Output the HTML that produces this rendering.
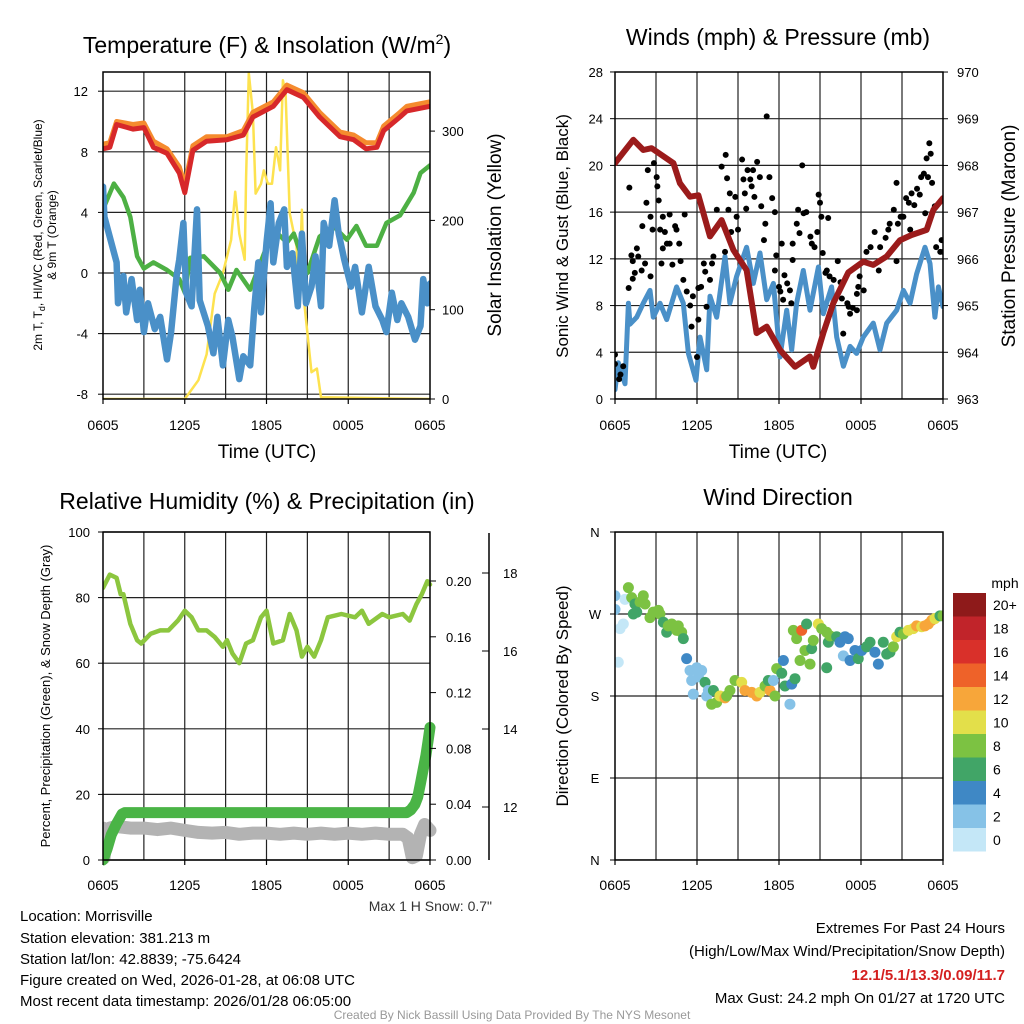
<!DOCTYPE html>
<html><head><meta charset="utf-8"><style>
html,body{margin:0;padding:0;background:#fff;}
svg{display:block;font-family:"Liberation Sans",Arial,sans-serif;}
</style></head><body>
<svg id="c" width="1024" height="1024" viewBox="0 0 1024 1024" xmlns="http://www.w3.org/2000/svg">
<g id="static">
<text x="267" y="53" font-size="23" text-anchor="middle">Temperature (F) &amp; Insolation (W/m<tspan dy="-9" font-size="14">2</tspan><tspan dy="9">)</tspan></text>
<text x="778" y="45" font-size="23" text-anchor="middle">Winds (mph) &amp; Pressure (mb)</text>
<text x="267" y="509" font-size="23" text-anchor="middle">Relative Humidity (%) &amp; Precipitation (in)</text>
<text x="778" y="505" font-size="23" text-anchor="middle">Wind Direction</text>
<text transform="translate(42,235) rotate(-90)" font-size="12" text-anchor="middle">2m T, T<tspan dy="3" font-size="9">d</tspan><tspan dy="-3">, HI/WC (Red, Green, Scarlet/Blue)</tspan></text>
<text transform="translate(56,235) rotate(-90)" font-size="12" text-anchor="middle">&amp; 9m T (Orange)</text>
<text transform="translate(501,235) rotate(-90)" font-size="19" text-anchor="middle">Solar Insolation (Yellow)</text>
<text x="267" y="458" font-size="19" text-anchor="middle">Time (UTC)</text>
<text x="778" y="458" font-size="19" text-anchor="middle">Time (UTC)</text>
<text transform="translate(568,236) rotate(-90)" font-size="17" text-anchor="middle">Sonic Wind &amp; Gust (Blue, Black)</text>
<text transform="translate(1015,236) rotate(-90)" font-size="19" text-anchor="middle">Station Pressure (Maroon)</text>
<text transform="translate(50,696) rotate(-90)" font-size="13" text-anchor="middle">Percent, Precipitation (Green), &amp; Snow Depth (Gray)</text>
<text transform="translate(568,696) rotate(-90)" font-size="17" text-anchor="middle">Direction (Colored By Speed)</text>
<text x="492" y="911" font-size="14" text-anchor="end" fill="#333">Max 1 H Snow: 0.7"</text>
<g font-size="15">
<text x="20" y="921">Location: Morrisville</text>
<text x="20" y="943">Station elevation: 381.213 m</text>
<text x="20" y="964">Station lat/lon: 42.8839; -75.6424</text>
<text x="20" y="985">Figure created on Wed, 2026-01-28, at 06:08 UTC</text>
<text x="20" y="1006">Most recent data timestamp: 2026/01/28 06:05:00</text>
</g>
<g font-size="15" text-anchor="end">
<text x="1005" y="933">Extremes For Past 24 Hours</text>
<text x="1005" y="956">(High/Low/Max Wind/Precipitation/Snow Depth)</text>
<text x="1005" y="980" fill="#d42020" font-weight="bold">12.1/5.1/13.3/0.09/11.7</text>
<text x="1005" y="1003">Max Gust: 24.2 mph On 01/27 at 1720 UTC</text>
</g>
<text x="512" y="1019" font-size="12" fill="#999" text-anchor="middle">Created By Nick Bassill Using Data Provided By The NYS Mesonet</text>
</g>
</svg>
<script>
// ---------- data ----------
const xTickLabels = ["0605","1205","1805","0005","0605"];
const xTickHours = [0,6,12,18,24];
const tempTicks = [-8,-4,0,4,8,12];
const solarTicks = [0,100,200,300];
const windTicks = [0,4,8,12,16,20,24,28];
const presTicks = [963,964,965,966,967,968,969,970];
const rhTicks = [0,20,40,60,80,100];
const precTicks = [0,0.04,0.08,0.12,0.16,0.20];
const snowTicks = [12,14,16,18];
const dirTickLabels = ["N","E","S","W","N"];
const dirTickDeg = [0,90,180,270,360];
const cbarLabels = ["0","2","4","6","8","10","12","14","16","18","20+"];
const cbarColors = ["#c4e7f7","#86c2e7","#3f88c5","#41a567","#7cc242","#e3df4a","#f7a63a","#ee6229","#d9302a","#c1242a","#8e1a1a"];

const redHours = [0,0.5,1,2.2,3,3.7,4.7,5.6,6,6.6,7.6,9.1,10.3,11,12.5,13.5,14.7,15.9,17.4,18.4,19.3,20.1,20.6,21.8,22.3,24];
const redVals  = [8.2,8.3,9.8,9.5,9.6,8.3,7.9,6.6,5.3,8.1,8.7,8.8,9.1,10.3,11,12.1,11.6,10.3,9.0,8.8,8.2,8.3,9.4,10.3,10.7,11.0];
const orangeVals=[8.5,8.6,10.0,9.8,9.9,8.7,8.2,7.0,5.8,8.4,9.0,9.0,9.4,10.6,11.3,12.4,11.9,10.6,9.3,9.1,8.6,8.6,9.7,10.6,11.0,11.3];
const greenHours=[0,0.8,1.5,2,2.5,3,3.7,4.7,5.6,6,6.4,7.4,8.6,9.2,9.8,10.8,12.5,13.5,14,15,15.9,16.9,17.9,18.6,19.3,20.1,20.8,21.8,22.8,23.3,24];
const greenVals=[4.2,5.9,5.0,3.7,1.1,0.3,0.7,0.2,-0.4,-1.3,1.0,1.1,0,-1.1,0.2,-1.1,2.9,2.0,2.6,0,2.4,3.1,2.2,3.1,1.8,1.8,3.3,3.8,5.3,6.6,7.1];
const blueHours=[0,0.1,1.0,1.1,1.5,1.7,2.1,2.5,2.7,3.0,3.3,3.8,4.2,4.7,5.0,5.4,5.6,5.9,6.1,6.5,6.9,7.1,7.7,8.1,8.4,8.8,9.2,9.5,10.0,10.3,10.8,11.1,11.4,11.6,12.0,12.3,12.5,12.9,13.3,13.5,13.9,14.3,14.6,14.9,15.3,15.6,16.0,16.2,16.6,17.0,17.3,17.7,18.2,18.5,19.0,19.5,20.0,20.5,20.8,21.2,21.6,21.9,22.4,22.9,23.3,23.5,23.8,24];
const blueVals=[5.7,3.7,0.7,-2.0,-0.2,-2.6,-0.4,-3.1,-1.1,-3.9,-2.0,-3.7,-2.9,-5.7,-3.9,-0.2,0.9,3.3,-1.3,-2.2,4.2,-1.8,-3.5,-5.3,-2.9,-6.1,-3.1,-4.2,-7.0,-5.5,-6.1,-2.4,0.7,-2.6,2.0,4.6,0.7,3.3,4.2,0.4,1.3,-2.2,2.6,-2.0,-0.9,1.1,-2.2,3.3,1.8,4.8,2.6,0.9,-0.9,0.4,-2.6,0.4,-2.2,-3.1,-3.9,-1.3,-3.1,-2.0,-2.9,-4.4,-3.5,-0.4,-2.0,-0.7];
const solarHours=[0,6.0,7.0,7.6,8.2,8.8,9.4,9.7,10.0,10.4,10.5,10.7,11.0,11.2,11.6,11.8,12.1,12.4,12.7,13.0,13.2,13.4,13.7,14.2,14.4,14.6,14.8,15.3,15.7,16.0,24];
const solarVals=[0,0,21,50,118,141,178,232,185,156,249,365,320,230,241,256,241,241,282,256,357,342,208,171,126,212,104,30,34,2,0];

const presHours=[0,1.34,2.07,2.68,4.27,4.75,5.49,6.1,6.95,7.8,8.66,9.63,10.36,11.1,12.07,13.17,14.26,14.51,15.24,15.97,17.07,18.16,18.9,19.87,20.85,21.7,22.8,23.3,24];
const presVals=[968.05,968.55,968.33,968.37,968.05,967.62,967.33,967.36,966.48,966.83,966.19,965.76,964.41,964.55,964.05,963.69,963.91,963.69,964.41,965.05,965.71,965.94,965.87,966.05,966.4,966.51,966.62,967.05,967.3];
const windHours=[0,0.24,0.73,0.98,1.1,1.59,2.07,2.56,2.8,3.29,3.78,4.51,5.0,5.37,5.93,6.22,6.71,6.95,7.44,8.05,8.41,8.9,9.63,10.12,10.61,11.1,11.59,12.07,12.56,12.93,13.29,13.78,14.27,14.88,15.24,15.85,16.22,16.71,17.2,17.68,18.17,18.9,19.39,19.88,20.61,21.1,21.59,22.07,22.68,23.05,23.41,23.66,24];
const windVals=[0.8,3.1,1.3,8.2,6.4,7.0,8.2,9.3,7.0,8.2,6.8,9.6,8.2,3.9,1.6,5.3,2.5,8.8,7.0,12.2,8.2,10.5,13.0,9.9,12.5,8.5,9.9,3.6,7.6,4.2,8.2,11.0,7.6,11.3,7.3,9.6,5.3,2.8,4.5,3.9,5.3,6.5,4.2,6.5,7.6,9.3,8.2,10.7,13.0,11.6,7.0,9.6,7.9];
const gustHours=[0,0,0.4,0.6,0.3,1.0,1.05,1.2,1.3,1.6,1.7,1.3,1.45,1.95,2.0,2.2,2.3,2.6,2.4,2.6,2.75,2.85,3.05,3.1,3.2,3.3,3.4,3.5,3.5,3.65,3.8,4.0,4.0,4.2,4.4,4.5,4.7,4.8,5.1,5.0,5.25,5.5,5.6,5.7,6.0,6.1,6.1,6.3,6.5,6.6,6.7,6.95,7.1,7.2,7.45,7.8,8.05,8.1,8.2,8.3,8.4,8.5,8.8,8.9,9.0,9.3,9.4,9.5,9.6,9.7,9.9,10.0,10.1,10.2,10.4,10.6,10.7,10.9,11.0,11.1,11.3,11.5,11.7,11.8,11.7,12.0,12.1,12.2,12.3,12.4,12.6,12.8,12.9,13.0,13.0,13.3,13.4,13.5,13.7,13.8,14.0,14.3,14.4,14.6,14.8,14.9,15.0,15.1,15.2,15.4,15.6,15.5,15.7,16.0,16.3,16.5,16.6,16.7,17.0,17.1,17.2,17.4,17.7,17.7,17.8,17.9,18.2,18.4,18.7,19.0,19.3,19.4,19.8,20.0,20.1,20.4,20.6,20.6,20.7,20.9,21.1,21.3,21.5,21.6,21.7,21.9,22.1,22.3,22.4,22.6,22.7,22.8,22.9,23.0,23.1,23.2,23.4,23.5,23.8,23.9,24];
const gustVals=[3.8,3.0,2.1,2.8,1.7,9.5,18.1,12.3,11.8,12.9,12.2,10.3,10.8,11.0,14.8,11.6,16.8,15.6,19.6,10.5,14.5,20.2,19.0,18.2,17.0,14.5,11.6,15.6,12.9,14.3,13.3,13.3,15.8,11.5,14.8,14.5,13.3,11.8,15.8,10.2,9.2,8.0,6.2,8.8,3.6,6.8,9.5,9.6,11.6,10.9,7.9,10.2,11.6,12.2,16.2,19.9,12.6,20.9,18.9,16.2,17.6,14.3,17.3,15.6,14.5,20.5,18.8,17.6,16.3,19.6,18.8,18.2,19.6,17.3,20.3,19.0,16.5,13.6,15.0,24.2,19.0,17.2,16.0,12.3,11.0,9.6,9.2,13.3,8.5,10.6,9.9,9.3,8.2,11.9,13.3,15.0,16.2,14.2,20.0,15.9,16.0,13.9,13.3,13.0,14.3,17.5,16.8,15.6,12.5,10.8,15.5,11.0,10.5,10.2,11.8,10.0,8.6,5.6,8.2,7.9,7.3,7.8,7.6,9.0,9.6,10.5,9.3,12.6,13.0,14.3,11.0,13.0,13.8,14.5,15.0,16.2,18.5,11.8,15.0,15.6,15.6,17.2,16.8,14.5,17.6,16.6,18.0,17.5,19.0,19.3,15.9,20.6,19.0,21.9,21.0,18.5,16.5,13.0,12.6,13.6,12.6];

const rhHours=[0,0.5,1,1.3,1.5,2,2.5,2.8,3.5,4.2,4.8,5.5,6,6.5,7,7.6,8.2,8.8,9.1,9.5,10,10.5,11,11.6,12,12.5,13.2,13.7,14.2,14.6,15,15.5,16,16.5,17.5,18.5,19,19.5,20.5,21,22,22.5,23,23.4,23.8,24];
const rhVals=[83,87,86,81,81,72,67,66,69,70,70,73,76,74,70,70,68,65,67,63,60,66,67,74,76,66,67,75,70,62,65,62,67,74,75,74,76,72,75,74,75,73,78,81,85,84];
const precHours=[0,0.3,0.6,1.0,1.4,1.6,22.3,22.6,22.9,23.1,23.3,23.5,23.7,23.85,24];
const precVals=[0,0.008,0.018,0.026,0.033,0.034,0.034,0.036,0.04,0.045,0.055,0.065,0.075,0.085,0.095];
const snowHours=[0,0.08,0.2,0.5,1,2,3,4,5,6,7,8,9,10,11,12,13,14,15,16,17,18,19,20,21,22,22.4,22.7,23.0,23.3,23.6,24];
const snowVals=[11.46,10.7,11.3,11.46,11.5,11.46,11.46,11.42,11.46,11.4,11.35,11.33,11.35,11.3,11.33,11.33,11.3,11.33,11.3,11.33,11.3,11.33,11.3,11.33,11.3,11.3,11.2,10.7,10.75,11.3,11.55,11.4];

const dirHours=[0,0,0.73,0.61,0.37,0.24,0.98,1.22,1.46,1.83,2.07,2.2,1.59,1.34,2.56,2.8,3.17,3.29,3.54,3.78,3.9,4.15,4.51,4.63,4.88,5.0,5.24,5.49,5.61,5.98,6.34,6.1,6.59,6.83,5.73,6.71,7.2,7.07,7.44,7.68,8.05,8.17,8.41,8.78,9.27,9.51,10.0,10.37,10.61,10.98,11.34,11.22,11.71,11.59,11.83,12.2,12.32,12.8,12.44,12.93,13.17,13.05,13.29,13.54,13.66,13.9,14.02,14.27,14.39,14.51,14.88,15.12,15.49,15.61,15.49,15.73,16.22,16.46,16.71,16.83,17.07,17.2,17.56,17.8,18.05,18.41,18.66,19.02,19.27,19.63,19.88,20.12,20.37,20.61,20.85,21.1,21.46,21.83,22.07,22.44,22.68,22.93,23.17,23.41,23.78,24];
const dirVals=[290,275,286,259,254,217,299,288,281,283,290,281,272,270,266,272,274,270,261,250,257,259,252,257,250,243,221,208,197,211,208,201,195,186,182,180,186,171,173,180,178,180,186,197,195,186,184,180,184,191,186,197,180,197,210,205,219,171,191,193,199,252,243,219,252,230,259,215,232,241,259,254,250,239,211,246,245,239,224,245,243,219,230,221,230,234,239,228,215,239,226,228,234,245,250,248,252,254,257,256,257,259,263,265,268,268];
const dirSpeed=[3,3,1,1,1,1,8,8,6,8,8,8,6,6,8,8,8,8,6,6,8,8,8,8,8,6,4,2,3,3,3,3,6,3,3,2,6,8,8,10,12,8,8,8,10,12,12,12,10,8,12,6,8,3,8,6,4,3,6,4,6,8,8,8,14,8,6,8,6,8,10,8,8,6,6,8,6,4,3,4,4,4,4,6,4,6,6,4,4,6,6,6,8,10,6,8,10,10,12,10,12,12,12,10,6,8];

// ---------- helpers ----------
const svg = document.getElementById('c');
const NS = 'http://www.w3.org/2000/svg';
function mk(tag, attrs, parent){const e=document.createElementNS(NS,tag);for(const k in attrs)e.setAttribute(k,attrs[k]);(parent||svg).appendChild(e);return e;}
function txt(x,y,s,size,anchor,name){const e=mk('text',{x:x,y:y,'font-size':size,'text-anchor':anchor});e.textContent=s;


return e;}
function poly(hours,vals,fx,fy,color,w,name,parent){
const d=hours.map((h,i)=>(i?'L':'M')+fx(h).toFixed(1)+' '+fy(vals[i]).toFixed(1)).join(' ');
const e=mk('path',{d:d,fill:'none',stroke:color,'stroke-width':w,'stroke-linejoin':'round','stroke-linecap':'round'},parent);


return e;}
function frameBox(x0,y0,x1,y1,name){
const e=mk('rect',{x:x0,y:y0,width:x1-x0,height:y1-y0,fill:'none',stroke:'#000','stroke-width':1.5});

}
function gridLine(x0,y0,x1,y1,parent){
const e=mk('line',{x1:x0,y1:y0,x2:x1,y2:y1,stroke:'#222','stroke-width':1.2},parent);

}
function clip(id,x0,y0,x1,y1){const c=mk('clipPath',{id:id});mk('rect',{x:x0,y:y0,width:x1-x0,height:y1-y0},c);}
function group(name,clipId){const g=mk('g',clipId?{'clip-path':'url(#'+clipId+')'}:{});


return g;}
function xAxis(x0,x1,yb,ylab,prefix){
for(let i=0;i<xTickHours.length;i++){const x=x0+(x1-x0)*xTickHours[i]/24;
mk('line',{x1:x,y1:yb,x2:x,y2:yb+5,stroke:'#000','stroke-width':1.2});
txt(x,ylab,xTickLabels[i],14,'middle',prefix+'-x-tick-label');}}

// ---------- panel 1: temperature ----------
const P1={x0:103,x1:430,y0:72,y1:399};
const x1f=h=>P1.x0+(P1.x1-P1.x0)*h/24;
const yT=v=>273-v*15.15;
const yS=v=>399-v*0.893;
clip('cp1',P1.x0,P1.y0,P1.x1,P1.y1);
const g1=group('temperature-plot','cp1');
for(let h=3;h<24;h+=3)gridLine(x1f(h),P1.y0,x1f(h),P1.y1,g1);
tempTicks.forEach(v=>gridLine(P1.x0,yT(v),P1.x1,yT(v),g1));
poly(solarHours,solarVals,x1f,yS,'#fde24f',2.5,'solar-line',g1);
poly(greenHours,greenVals,x1f,yT,'#4db044',4.5,'dewpoint-line',g1);
poly(blueHours,blueVals,x1f,yT,'#4a90c8',6.5,'windchill-line',g1);
poly(redHours,orangeVals,x1f,yT,'#f58b2e',5,'9m-temp-line',g1);
poly(redHours,redVals,x1f,yT,'#d7282a',5,'2m-temp-line',g1);
frameBox(P1.x0,P1.y0,P1.x1,P1.y1,'temperature-frame');
tempTicks.forEach(v=>{mk('line',{x1:P1.x0-5,y1:yT(v),x2:P1.x0,y2:yT(v),stroke:'#000'});txt(P1.x0-15,yT(v)+5,String(v),13,'end','temp-y-tick-label');});
solarTicks.forEach(v=>{mk('line',{x1:P1.x1,y1:yS(v),x2:P1.x1+5,y2:yS(v),stroke:'#000'});txt(P1.x1+12,yS(v)+5,String(v),13,'start','solar-y-tick-label');});
xAxis(P1.x0,P1.x1,P1.y1,430,'temp');

// ---------- panel 2: winds ----------
const P2={x0:615,x1:943,y0:72,y1:399};
const x2f=h=>P2.x0+(P2.x1-P2.x0)*h/24;
const yW=v=>399-v*11.68;
const yP=p=>399-(p-963)*46.71;
clip('cp2',P2.x0,P2.y0,P2.x1,P2.y1);
const g2=group('winds-plot','cp2');
for(let h=3;h<24;h+=3)gridLine(x2f(h),P2.y0,x2f(h),P2.y1,g2);
windTicks.forEach(v=>gridLine(P2.x0,yW(v),P2.x1,yW(v),g2));
poly(windHours,windVals,x2f,yW,'#4a90c8',5,'sonic-wind-line',g2);
gustHours.forEach((h,i)=>{const c=mk('circle',{cx:x2f(h),cy:yW(gustVals[i]),r:3,fill:'#000'},g2);

});
poly(presHours,presVals,x2f,yP,'#9b1b1b',6,'pressure-line',g2);
frameBox(P2.x0,P2.y0,P2.x1,P2.y1,'winds-frame');
windTicks.forEach(v=>{mk('line',{x1:P2.x0-5,y1:yW(v),x2:P2.x0,y2:yW(v),stroke:'#000'});txt(P2.x0-12,yW(v)+5,String(v),13,'end','wind-y-tick-label');});
presTicks.forEach(v=>{mk('line',{x1:P2.x1,y1:yP(v),x2:P2.x1+5,y2:yP(v),stroke:'#000'});txt(P2.x1+14,yP(v)+5,String(v),13,'start','pressure-y-tick-label');});
xAxis(P2.x0,P2.x1,P2.y1,430,'winds');

// ---------- panel 3: RH & precip ----------
const P3={x0:103,x1:430,y0:532,y1:860};
const x3f=h=>P3.x0+(P3.x1-P3.x0)*h/24;
const yRH=v=>860-v*3.28;
const yPr=v=>860-v*1395;
const ySn=s=>807-(s-12)*39;
clip('cp3',P3.x0,P3.y0-2,P3.x1+8,P3.y1+8);
const g3=group('rh-plot','cp3');
for(let h=3;h<24;h+=3)gridLine(x3f(h),P3.y0,x3f(h),P3.y1,g3);
rhTicks.forEach(v=>gridLine(P3.x0,yRH(v),P3.x1,yRH(v),g3));
poly(snowHours,snowVals,x3f,ySn,'#b3b3b3',13,'snow-depth-line',g3);
poly(precHours,precVals,x3f,yPr,'#4ab446',11,'precip-line',g3);
poly(rhHours,rhVals,x3f,yRH,'#8cc63f',4.5,'rh-line',g3);
frameBox(P3.x0,P3.y0,P3.x1,P3.y1,'rh-frame');
rhTicks.forEach(v=>{mk('line',{x1:P3.x0-5,y1:yRH(v),x2:P3.x0,y2:yRH(v),stroke:'#000'});txt(P3.x0-13,yRH(v)+5,String(v),13,'end','rh-y-tick-label');});
precTicks.forEach(v=>{mk('line',{x1:P3.x1,y1:yPr(v),x2:P3.x1+6,y2:yPr(v),stroke:'#000'});txt(P3.x1+16,yPr(v)+5,v.toFixed(2),13,'start','precip-y-tick-label');});
mk('line',{x1:489,y1:533,x2:489,y2:860,stroke:'#000','stroke-width':1.5});
snowTicks.forEach(v=>{mk('line',{x1:482,y1:ySn(v),x2:489,y2:ySn(v),stroke:'#000'});txt(503,ySn(v)+5,String(v),13,'start','snow-y-tick-label');});
xAxis(P3.x0,P3.x1,P3.y1,890,'rh');

// ---------- panel 4: wind direction ----------
const P4={x0:615,x1:943,y0:532,y1:860};
const x4f=h=>P4.x0+(P4.x1-P4.x0)*h/24;
const yD=d=>860-d*328/360;
clip('cp4',P4.x0,P4.y0,P4.x1,P4.y1);
const g4=group('direction-plot','cp4');
for(let h=3;h<24;h+=3)gridLine(x4f(h),P4.y0,x4f(h),P4.y1,g4);
dirTickDeg.forEach(v=>gridLine(P4.x0,yD(v),P4.x1,yD(v),g4));
dirHours.forEach((h,i)=>{const b=Math.min(10,Math.floor(dirSpeed[i]/2));
const c=mk('circle',{cx:x4f(h),cy:yD(dirVals[i]),r:5.5,fill:cbarColors[b]},g4);

});
frameBox(P4.x0,P4.y0,P4.x1,P4.y1,'direction-frame');
dirTickDeg.forEach((v,i)=>{mk('line',{x1:P4.x0-5,y1:yD(v),x2:P4.x0,y2:yD(v),stroke:'#000'});txt(P4.x0-20,yD(v)+5,dirTickLabels[i],13,'middle','dir-y-tick-label');});
xAxis(P4.x0,P4.x1,P4.y1,890,'dir');

// colorbar
txt(1005,588,'mph',14,'middle','colorbar-title');
const cbTop=593,cbH=23.5;
for(let i=0;i<cbarColors.length;i++){const y=cbTop+(cbarColors.length-1-i)*cbH;
const r=mk('rect',{x:953,y:y,width:33,height:cbH,fill:cbarColors[i]});


txt(993,y+cbH/2+5,cbarLabels[i],14,'start','colorbar-label');}
</script>
</body></html>
